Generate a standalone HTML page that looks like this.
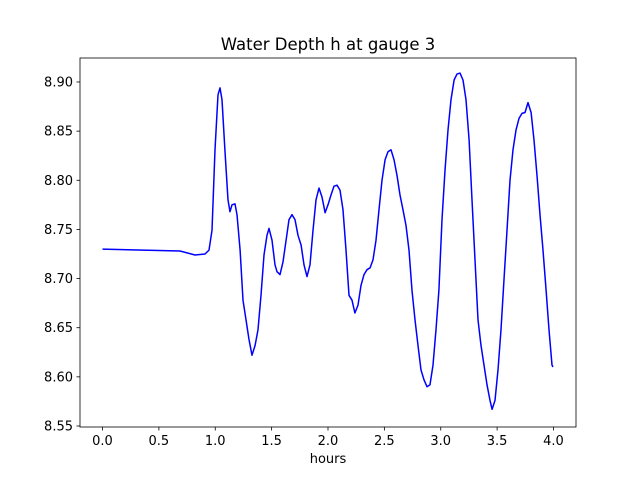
<!DOCTYPE html>
<html><head><meta charset="utf-8"><style>
body{margin:0;background:#fff;}
svg{display:block;font-family:"DejaVu Sans","Liberation Sans",sans-serif;}
</style></head><body>
<svg id="chart" width="640" height="480"></svg>
<script>
const hours=[0.00,0.687,0.820,0.909,0.945,0.971,0.998,1.024,1.042,1.060,1.086,1.113,1.131,1.149,1.175,1.193,1.220,1.246,1.273,1.299,1.326,1.353,1.379,1.406,1.432,1.459,1.477,1.503,1.530,1.548,1.574,1.601,1.628,1.654,1.681,1.707,1.734,1.761,1.787,1.814,1.840,1.867,1.894,1.920,1.947,1.974,2.000,2.027,2.053,2.080,2.106,2.133,2.160,2.186,2.213,2.239,2.266,2.293,2.319,2.346,2.373,2.399,2.426,2.452,2.479,2.506,2.532,2.559,2.585,2.612,2.639,2.665,2.692,2.718,2.745,2.772,2.798,2.825,2.851,2.878,2.905,2.931,2.958,2.984,3.011,3.038,3.064,3.091,3.118,3.144,3.171,3.197,3.224,3.251,3.277,3.304,3.330,3.357,3.384,3.410,3.437,3.455,3.481,3.508,3.534,3.561,3.588,3.614,3.641,3.667,3.694,3.721,3.747,3.774,3.801,3.827,3.854,3.880,3.907,3.934,3.960,3.987,3.996];
const depth=[8.730,8.728,8.724,8.725,8.729,8.749,8.831,8.887,8.894,8.882,8.831,8.780,8.768,8.775,8.776,8.765,8.729,8.678,8.658,8.638,8.622,8.632,8.648,8.683,8.724,8.744,8.751,8.739,8.714,8.707,8.704,8.717,8.739,8.760,8.765,8.760,8.744,8.734,8.714,8.702,8.714,8.749,8.780,8.792,8.783,8.767,8.775,8.785,8.794,8.795,8.790,8.770,8.729,8.683,8.678,8.665,8.673,8.693,8.704,8.709,8.711,8.719,8.739,8.770,8.800,8.821,8.829,8.831,8.821,8.805,8.785,8.770,8.754,8.729,8.688,8.658,8.632,8.607,8.597,8.590,8.592,8.612,8.648,8.688,8.760,8.810,8.851,8.882,8.902,8.908,8.909,8.902,8.882,8.841,8.780,8.719,8.658,8.632,8.612,8.592,8.576,8.567,8.576,8.607,8.648,8.699,8.749,8.800,8.831,8.851,8.863,8.868,8.869,8.879,8.869,8.841,8.805,8.765,8.729,8.688,8.648,8.612,8.610];
const xTicks=[0.0,0.5,1.0,1.5,2.0,2.5,3.0,3.5,4.0];
const yTicks=[8.55,8.60,8.65,8.70,8.75,8.80,8.85,8.90];
const NS="http://www.w3.org/2000/svg";
const svg=document.getElementById('chart');
const L=80,R=576,T=58,B=427;
const X=h=>102.5+h*112.75;
const Y=v=>426-(v-8.55)*982.9;
function mk(tag,attrs,parent){const e=document.createElementNS(NS,tag);for(const k in attrs)e.setAttribute(k,attrs[k]);(parent||svg).appendChild(e);return e;}
const line=mk('polyline',{points:hours.map((h,i)=>X(h).toFixed(1)+','+Y(depth[i]).toFixed(1)).join(' '),fill:'none',stroke:'#0000ff','stroke-width':1.5,'stroke-linejoin':'round'});


const frame=mk('rect',{x:L,y:T,width:R-L,height:B-T,fill:'none',stroke:'#000','stroke-width':0.8});


xTicks.forEach(t=>{
  const x=X(t);
  mk('line',{x1:x,x2:x,y1:B,y2:B+3.5,stroke:'#000','stroke-width':0.8});
  const tx=mk('text',{x:x,y:B+18,'font-size':13,'text-anchor':'middle',fill:'#000'});
  tx.textContent=t.toFixed(1);
  
  
});
yTicks.forEach(t=>{
  const y=Y(t);
  mk('line',{x1:L-3.5,x2:L,y1:y,y2:y,stroke:'#000','stroke-width':0.8});
  const tx=mk('text',{x:L-7,y:y+4.5,'font-size':13,'text-anchor':'end',fill:'#000'});
  tx.textContent=t.toFixed(2);
  
  
});
const xl=mk('text',{x:(L+R)/2,y:B+36,'font-size':13,'text-anchor':'middle'});
xl.textContent='hours';


const ti=mk('text',{x:(L+R)/2,y:T-8,'font-size':16.5,'text-anchor':'middle'});
ti.textContent='Water Depth h at gauge 3';


</script>
</body></html>
